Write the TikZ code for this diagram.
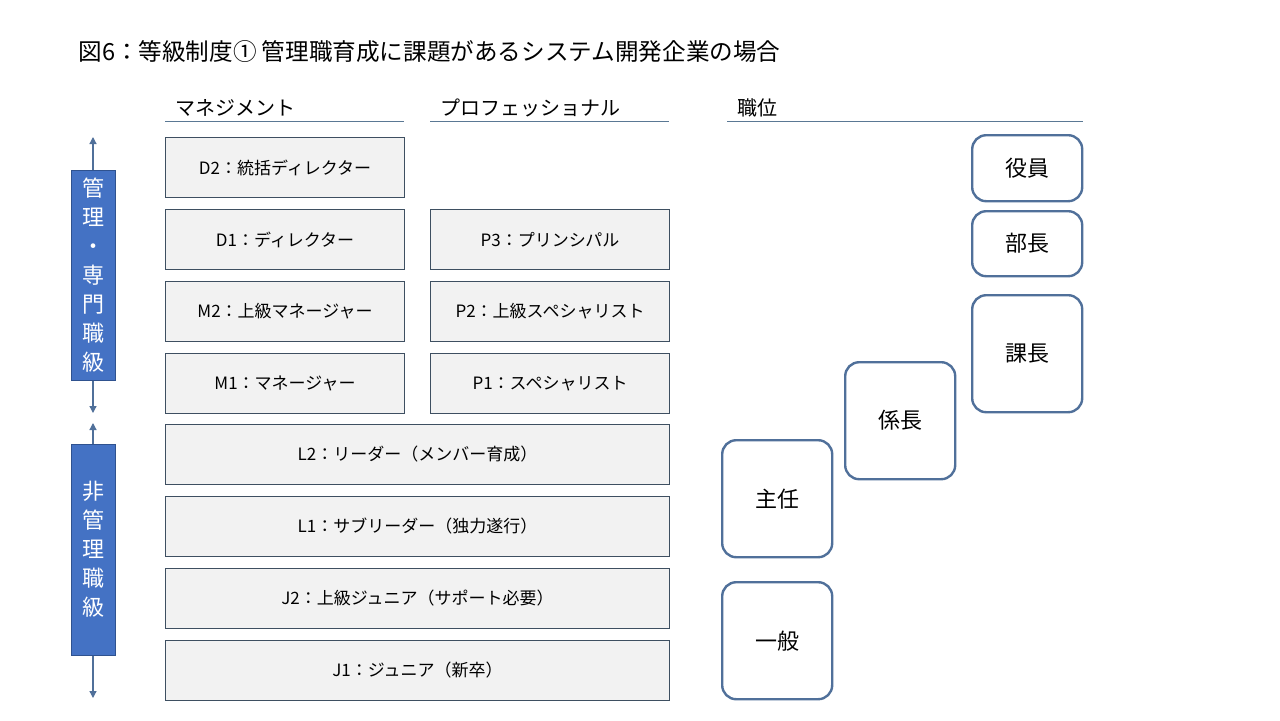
\documentclass[tikz,border=0pt]{standalone}
\usepackage{fontspec}
\setmainfont{Noto Sans CJK JP}
\usetikzlibrary{arrows.meta, positioning}
\definecolor{gradefill}{HTML}{F2F2F2}
\definecolor{gradeline}{HTML}{3E4F61}
\definecolor{postline}{HTML}{50709A}
\definecolor{barblue}{HTML}{4472C4}
\definecolor{bardark}{HTML}{2F528F}
\definecolor{rulecol}{HTML}{5A7894}

\begin{document}
\begin{tikzpicture}[
  x=0.5pt, y=-0.5pt,
  node distance=5.5pt and 12.5pt,
  grade/.style={rectangle, draw=gradeline, line width=0.5pt, fill=gradefill,
                minimum width=119.5pt, minimum height=30pt, inner sep=0pt,
                font=\fontsize{8.5}{10}\selectfont},
  wide/.style={grade, minimum width=252pt},
  post/.style={rectangle, rounded corners=7pt, draw=postline, line width=1.2pt,
               fill=white, minimum width=55pt, inner sep=0pt,
               font=\fontsize{11}{13}\selectfont},
  bar/.style={rectangle, draw=bardark, line width=0.5pt, fill=barblue,
              text=white, minimum width=22pt, inner sep=0pt, align=center,
              font=\fontsize{11}{14.5}\selectfont},
  head/.style={anchor=base west, inner sep=0pt, font=\fontsize{10}{12}\selectfont},
  arr/.style={-{Triangle[length=3.5pt, width=3.5pt]}, draw=postline, line width=0.6pt},
]
\useasboundingbox[fill=white] (0,0) rectangle (1280,720);

\node[anchor=west, inner sep=0pt, font=\fontsize{11.8}{14}\selectfont] (title) at (78,52)
  {図6：等級制度① 管理職育成に課題があるシステム開発企業の場合};

% column headers
\node[head] (hmgmt) at (175,115) {マネジメント};
\node[head] (hpro)  at (440,115) {プロフェッショナル};
\node[head] (hpost) at (737,115) {職位};
\draw[rulecol, line width=0.5pt] (165,121) -- (404,121);
\draw[rulecol, line width=0.5pt] (430,121) -- (669,121);
\draw[rulecol, line width=0.5pt] (727,121) -- (1083,121);

% grades
\node[grade, anchor=north west] (d2) at (165,137) {D2：統括ディレクター};
\node[grade, below=of d2] (d1) {D1：ディレクター};
\node[grade, below=of d1] (m2) {M2：上級マネージャー};
\node[grade, below=of m2] (m1) {M1：マネージャー};
\node[grade, right=of d1] (p3) {P3：プリンシパル};
\node[grade, right=of m2] (p2) {P2：上級スペシャリスト};
\node[grade, right=of m1] (p1) {P1：スペシャリスト};
\node[wide, anchor=north west] (l2) at (165,424) {L2：リーダー（メンバー育成）};
\node[wide, below=of l2] (l1) {L1：サブリーダー（独力遂行）};
\node[wide, below=of l1] (j2) {J2：上級ジュニア（サポート必要）};
\node[wide, below=of j2] (j1) {J1：ジュニア（新卒）};

% side bars
\node[bar, minimum height=105pt] (mgmt) at (93,275) {管\\理\\・\\専\\門\\職\\級};
\node[bar, minimum height=105.5pt] (staff) at (93,549.5) {非\\管\\理\\職\\級};
\coordinate (mgmttop) at (93,137);
\coordinate (mgmtbot) at (93,413);
\coordinate (stafftop) at (93,423);
\coordinate (staffbot) at (93,698);
\draw[arr] (mgmt.north) -- (mgmttop);
\draw[arr] (mgmt.south) -- (mgmtbot);
\draw[arr] (staff.north) -- (stafftop);
\draw[arr] (staff.south) -- (staffbot);

% posts
\node[post, anchor=north west, minimum height=33pt]   (yakuin)  at (971,134) {役員};
\node[post, anchor=north west, minimum height=32.5pt] (bucho)   at (971,210) {部長};
\node[post, anchor=north west, minimum height=58.5pt] (kacho)   at (971,294) {課長};
\node[post, anchor=north west, minimum height=58.5pt] (kakari)  at (844,361) {係長};
\node[post, anchor=north west, minimum height=58.5pt] (shunin)  at (721,439) {主任};
\node[post, anchor=north west, minimum height=58.5pt] (ippan)   at (721,581) {一般};
\end{tikzpicture}
\end{document}
